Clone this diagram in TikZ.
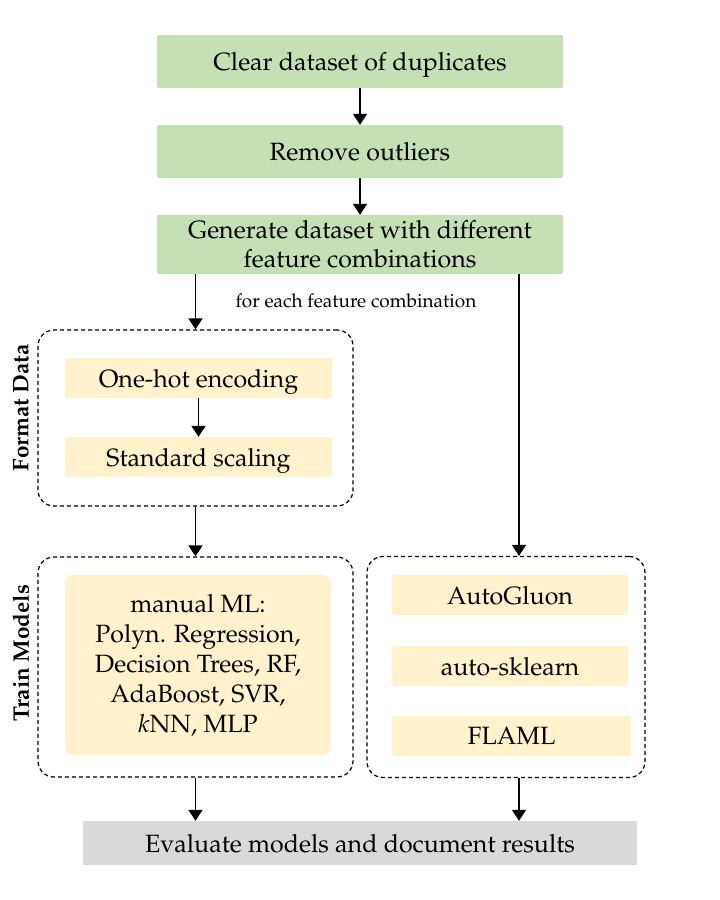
\documentclass[tikz,border=0pt]{standalone}
\usepackage[T1]{fontenc}
\usepackage{mathpazo}
\usetikzlibrary{arrows.meta}
\definecolor{grn}{HTML}{C5E0B4}
\definecolor{ylw}{HTML}{FFF2CC}
\definecolor{gry}{HTML}{D9D9D9}
\begin{document}
\begin{tikzpicture}[x=1pt,y=-1pt,
  main/.style={font=\fontsize{25}{29}\selectfont, align=center, inner sep=0pt},
  one/.style={text depth=0pt},
  gbox/.style={main, fill=grn, rounded corners=2pt},
  ybox/.style={main, fill=ylw, rounded corners=2pt},
  dbox/.style={draw, line width=1.2pt, rounded corners=16pt, dash pattern=on 4pt off 3pt, inner sep=0pt},
  arr/.style={line width=1.6pt, -{Triangle[width=14pt,length=11pt]}},
  lab/.style={font=\bfseries\fontsize{22.5}{26}\selectfont, rotate=90}]
\useasboundingbox (0,0) rectangle (720,900);

\node[gbox, one, minimum width=406pt, minimum height=53pt] (b1) at (360,61.5) {Clear dataset of duplicates};
\node[gbox, one, minimum width=406pt, minimum height=53pt] (b2) at (360,151.5) {Remove outliers};
\node[gbox, minimum width=406pt, minimum height=59pt] (b3) at (360,244.5) {Generate dataset with different\\feature combinations};
\node[font=\fontsize{19}{22}\selectfont] (note) at (356,301) {for each feature combination};

\node[dbox, minimum width=315pt, minimum height=176pt] (fd) at (195.5,418) {};
\node[ybox, one, minimum width=267pt, minimum height=40pt] (oh) at (198.5,378) {One-hot encoding};
\node[ybox, one, minimum width=267pt, minimum height=40pt] (ss) at (198.5,457) {Standard scaling};
\node[lab] (fdlab) at (21,408) {Format Data};

\node[dbox, minimum width=315pt, minimum height=220pt] (tm) at (195.5,667) {};
\node[ybox, rounded corners=8pt, minimum width=266pt, minimum height=180pt, font=\fontsize{25}{30}\selectfont] (ml) at (198,665) {manual ML:\\Polyn. Regression,\\Decision Trees, RF,\\AdaBoost, SVR,\\\textit{k}NN, MLP};
\node[lab] (tmlab) at (21,653) {Train Models};

\node[dbox, minimum width=278pt, minimum height=221pt] (auto) at (506,667) {};
\node[ybox, one, minimum width=236pt, minimum height=40pt] (ag) at (510,595) {AutoGluon};
\node[ybox, one, minimum width=236pt, minimum height=40pt] (ask) at (510,666) {auto-sklearn};
\node[ybox, one, minimum width=239pt, minimum height=40pt] (fl) at (511.5,736) {FLAML};

\node[main, one, fill=gry, minimum width=554pt, minimum height=44pt] (ev) at (360,843) {Evaluate models and document results};

\coordinate (rc) at (519,0);
\draw[arr] (b1.south) -- (b2.north);
\draw[arr] (b2.south) -- (b3.north);
\draw[arr] (b3.south -| fd.north) -- (fd.north);
\draw[arr] (b3.south -| rc) -- (auto.north -| rc);
\draw[arr] (oh.south) -- (ss.north);
\draw[arr] (fd.south) -- (tm.north);
\draw[arr] (tm.south) -- (tm.south |- ev.north);
\draw[arr] (auto.south -| rc) -- (ev.north -| rc);
\end{tikzpicture}
\end{document}
